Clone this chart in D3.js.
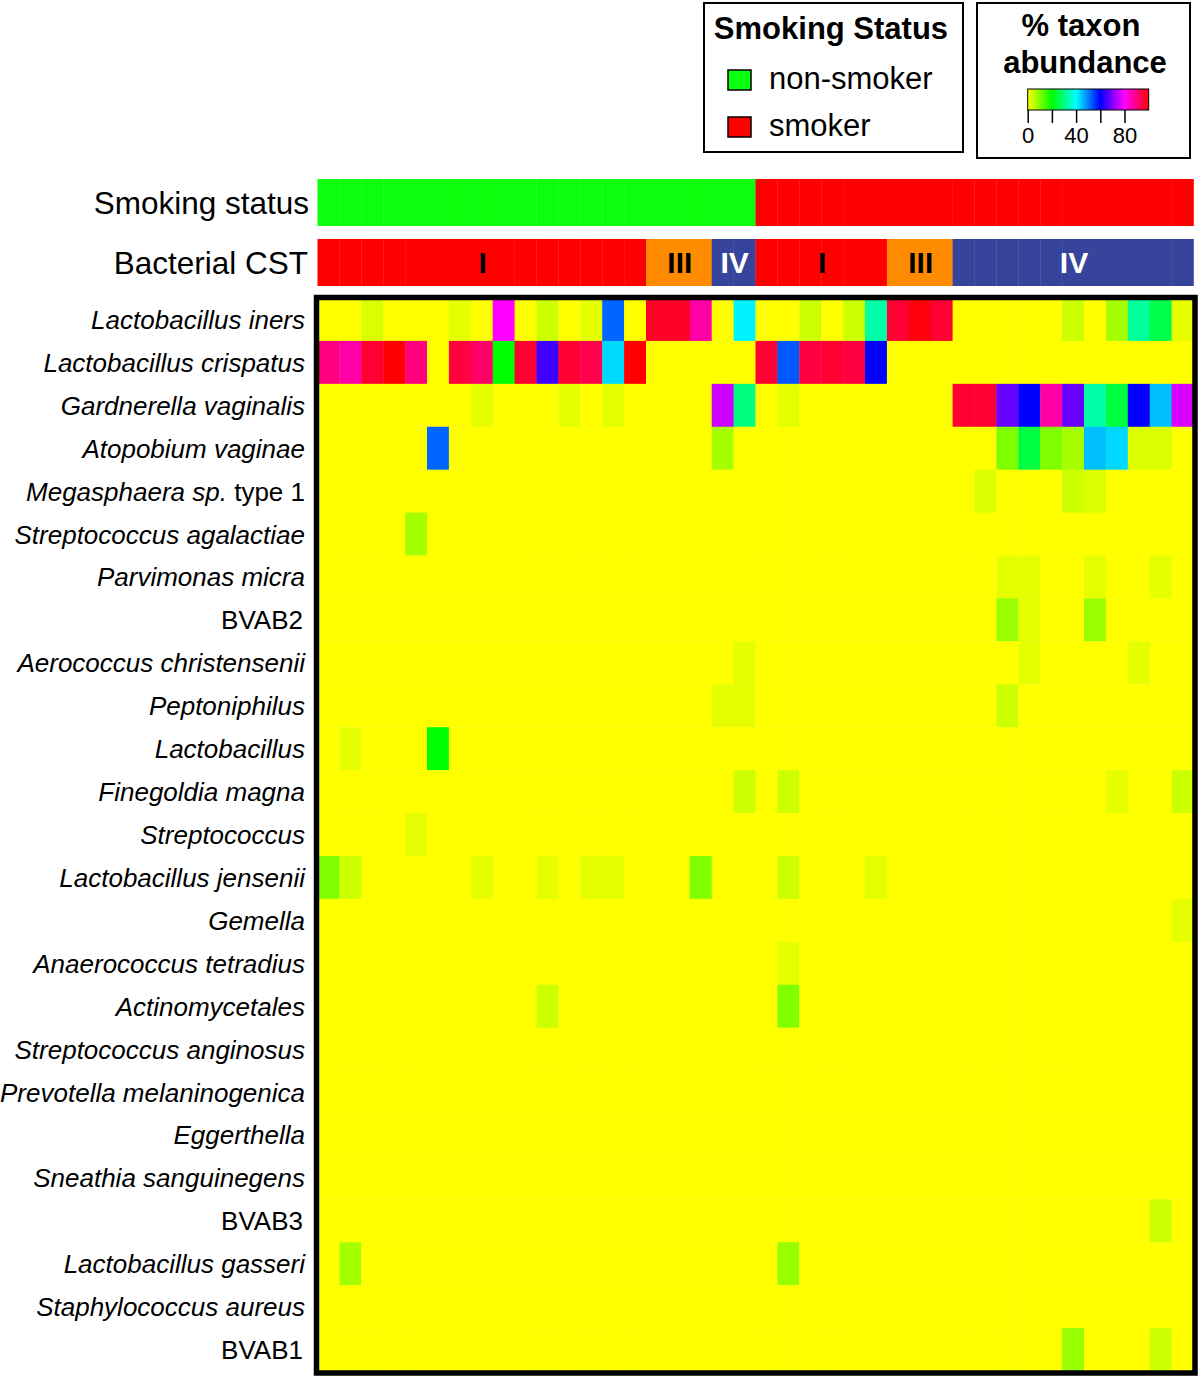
<!DOCTYPE html>
<html>
<head>
<meta charset="utf-8">
<script src="https://cdn.jsdelivr.net/npm/d3@7"></script>
<style>
  html, body { margin: 0; padding: 0; background: #fff; }
  svg { display: block; font-family: "Liberation Sans", Arial, sans-serif; }
</style>
</head>
<body>
<svg id="chart" width="1200" height="1379"></svg>
<script>
// ---------------- DATA ----------------
const taxa = [
  "Lactobacillus iners", "Lactobacillus crispatus", "Gardnerella vaginalis",
  "Atopobium vaginae", "Megasphaera sp. type 1", "Streptococcus agalactiae",
  "Parvimonas micra", "BVAB2", "Aerococcus christensenii", "Peptoniphilus",
  "Lactobacillus", "Finegoldia magna", "Streptococcus", "Lactobacillus jensenii",
  "Gemella", "Anaerococcus tetradius", "Actinomycetales", "Streptococcus anginosus",
  "Prevotella melaninogenica", "Eggerthella", "Sneathia sanguinegens", "BVAB3",
  "Lactobacillus gasseri", "Staphylococcus aureus", "BVAB1"
];

const smokingStatus = [
  "non-smoker","non-smoker","non-smoker","non-smoker","non-smoker","non-smoker","non-smoker","non-smoker","non-smoker","non-smoker",
  "non-smoker","non-smoker","non-smoker","non-smoker","non-smoker","non-smoker","non-smoker","non-smoker","non-smoker","non-smoker",
  "smoker","smoker","smoker","smoker","smoker","smoker","smoker","smoker","smoker","smoker",
  "smoker","smoker","smoker","smoker","smoker","smoker","smoker","smoker","smoker","smoker"
];

const cstGroups = [
  "I","I","I","I","I","I","I","I","I","I","I","I","I","I","I","III","III","III","IV","IV",
  "I","I","I","I","I","I","III","III","III","IV","IV","IV","IV","IV","IV","IV","IV","IV","IV","IV"
];

// % taxon abundance, one row per taxon (40 samples each)
const abundance = [
  [0,0,3,0,0,0,2,0,80,0,4,0,2,52,0,97,97,87,0,41, 0,0,4,0,4,33,96,99,96,0,0,0,0,0,4,0,7,32,26,2],
  [90,87,96,100,90,0,95,92,20,96,65,96,94,43,100,0,0,0,0,0, 96,53,95,96,95,60,0,0,0,0,0,0,0,0,0,0,0,0,0,0],
  [0,0,0,0,0,0,0,2,0,0,0,2,0,2,0,0,0,0,76,30, 0,2,0,0,0,0,0,0,0,96,96,68,60,87,68,33,25,60,45,77],
  [0,0,0,0,0,52,0,0,0,0,0,0,0,0,0,0,0,0,7,0, 0,0,0,0,0,0,0,0,0,0,0,10,25,10,7,45,43,3,3,0],
  [0,0,0,0,0,0,0,0,0,0,0,0,0,0,0,0,0,0,0,0, 0,0,0,0,0,0,0,0,0,0,3,0,0,0,4,3,0,0,0,0],
  [0,0,0,0,7,0,0,0,0,0,0,0,0,0,0,0,0,0,0,0, 0,0,0,0,0,0,0,0,0,0,0,0,0,0,0,0,0,0,0,0],
  [0,0,0,0,0,0,0,0,0,0,0,0,0,0,0,0,0,0,0,0, 0,0,0,0,0,0,0,0,0,0,0,2,2,0,0,2,0,0,2,0],
  [0,0,0,0,0,0,0,0,0,0,0,0,0,0,0,0,0,0,0,0, 0,0,0,0,0,0,0,0,0,0,0,8,2,0,0,8,0,0,0,0],
  [0,0,0,0,0,0,0,0,0,0,0,0,0,0,0,0,0,0,0,2, 0,0,0,0,0,0,0,0,0,0,0,0,2,0,0,0,0,2,0,0],
  [0,0,0,0,0,0,0,0,0,0,0,0,0,0,0,0,0,0,2,2, 0,0,0,0,0,0,0,0,0,0,0,4,0,0,0,0,0,0,0,0],
  [0,2,0,0,0,20,0,0,0,0,0,0,0,0,0,0,0,0,0,0, 0,0,0,0,0,0,0,0,0,0,0,0,0,0,0,0,0,0,0,0],
  [0,0,0,0,0,0,0,0,0,0,0,0,0,0,0,0,0,0,0,4, 0,4,0,0,0,0,0,0,0,0,0,0,0,0,0,0,2,0,0,4],
  [0,0,0,0,2,0,0,0,0,0,0,0,0,0,0,0,0,0,0,0, 0,0,0,0,0,0,0,0,0,0,0,0,0,0,0,0,0,0,0,0],
  [10,4,0,0,0,0,0,2,0,0,2,0,2,2,0,0,0,10,0,0, 0,4,0,0,0,2,0,0,0,0,0,0,0,0,0,0,0,0,0,0],
  [0,0,0,0,0,0,0,0,0,0,0,0,0,0,0,0,0,0,0,0, 0,0,0,0,0,0,0,0,0,0,0,0,0,0,0,0,0,0,0,2],
  [0,0,0,0,0,0,0,0,0,0,0,0,0,0,0,0,0,0,0,0, 0,2,0,0,0,0,0,0,0,0,0,0,0,0,0,0,0,0,0,0],
  [0,0,0,0,0,0,0,0,0,0,4,0,0,0,0,0,0,0,0,0, 0,10,0,0,0,0,0,0,0,0,0,0,0,0,0,0,0,0,0,0],
  [0,0,0,0,0,0,0,0,0,0,0,0,0,0,0,0,0,0,0,0, 0,0,0,0,0,0,0,0,0,0,0,0,0,0,0,0,0,0,0,0],
  [0,0,0,0,0,0,0,0,0,0,0,0,0,0,0,0,0,0,0,0, 0,0,0,0,0,0,0,0,0,0,0,0,0,0,0,0,0,0,0,0],
  [0,0,0,0,0,0,0,0,0,0,0,0,0,0,0,0,0,0,0,0, 0,0,0,0,0,0,0,0,0,0,0,0,0,0,0,0,0,0,0,0],
  [0,0,0,0,0,0,0,0,0,0,0,0,0,0,0,0,0,0,0,0, 0,0,0,0,0,0,0,0,0,0,0,0,0,0,0,0,0,0,0,0],
  [0,0,0,0,0,0,0,0,0,0,0,0,0,0,0,0,0,0,0,0, 0,0,0,0,0,0,0,0,0,0,0,0,0,0,0,0,0,0,4,0],
  [0,7,0,0,0,0,0,0,0,0,0,0,0,0,0,0,0,0,0,0, 0,8,0,0,0,0,0,0,0,0,0,0,0,0,0,0,0,0,0,0],
  [0,0,0,0,0,0,0,0,0,0,0,0,0,0,0,0,0,0,0,0, 0,0,0,0,0,0,0,0,0,0,0,0,0,0,0,0,0,0,0,0],
  [0,0,0,0,0,0,0,0,0,0,0,0,0,0,0,0,0,0,0,0, 0,0,0,0,0,0,0,0,0,0,0,0,0,0,8,0,0,0,4,0]
];

const smokingCategories = ["non-smoker", "smoker"];
const smokingColors = ["#0cff0c", "#ff0000"];
const cstCategories = ["I", "III", "IV"];
const cstColors = ["#ff0000", "#ff8c00", "#36459b"];
const cstTextColors = ["#000000", "#000000", "#ffffff"];
const colorbarTicks = [0, 20, 40, 60, 80];
const colorbarTickLabels = ["0", "", "40", "", "80"];

// ---------------- SCALES ----------------
const svg = d3.select("#chart");
const samples = d3.range(smokingStatus.length);

const x = d3.scaleBand().domain(samples).range([317.5, 1193.5]).paddingInner(0).paddingOuter(0);
const y = d3.scaleBand().domain(taxa).range([298, 1371]);
const color = d3.scaleSequential([0, 100], t => d3.hsl(60 + 300 * t, 1, 0.5).toString());
const smokeColor = d3.scaleOrdinal(smokingCategories, smokingColors);
const cstColor = d3.scaleOrdinal(cstCategories, cstColors);
const cstText = d3.scaleOrdinal(cstCategories, cstTextColors);

// ---------------- ANNOTATION BARS ----------------
const smokeBar = { y: 179, h: 47 };
const cstBar = { y: 239, h: 47 };

svg.append("g").selectAll("rect")
  .data(samples)
  .join("rect")
  .attr("x", d => x(d))
  .attr("y", smokeBar.y)
  .attr("width", x.bandwidth() + 0.3)
  .attr("height", smokeBar.h)
  .attr("fill", d => smokeColor(smokingStatus[d]));

svg.append("g").selectAll("rect")
  .data(samples)
  .join("rect")
  .attr("x", d => x(d))
  .attr("y", cstBar.y)
  .attr("width", x.bandwidth() + 0.3)
  .attr("height", cstBar.h)
  .attr("fill", d => cstColor(cstGroups[d]));

// CST group labels (contiguous runs)
const runs = [];
cstGroups.forEach((g, i) => {
  const last = runs[runs.length - 1];
  if (last && last.g === g) last.end = i; else runs.push({ g, start: i, end: i });
});
svg.append("g").selectAll("text")
  .data(runs)
  .join("text")
  .attr("x", d => (x(d.start) + x(d.end) + x.bandwidth()) / 2 + 1)
  .attr("y", cstBar.y + cstBar.h / 2 + 10.5)
  .attr("text-anchor", "middle")
  .attr("font-size", 30)
  .attr("font-weight", "bold")
  .attr("fill", d => cstText(d.g))
  .text(d => d.g);

svg.append("text")
  .attr("x", 309).attr("y", smokeBar.y + smokeBar.h / 2 + 11)
  .attr("text-anchor", "end").attr("font-size", 31.5)
  .text("Smoking status");
svg.append("text")
  .attr("x", 308).attr("y", cstBar.y + cstBar.h / 2 + 11)
  .attr("text-anchor", "end").attr("font-size", 31.5)
  .text("Bacterial CST");

// ---------------- HEATMAP ----------------
const cells = [];
taxa.forEach((t, r) => samples.forEach(c => cells.push({ taxon: t, sample: c, value: abundance[r][c] })));

svg.append("g").selectAll("rect")
  .data(cells)
  .join("rect")
  .attr("x", d => x(d.sample))
  .attr("y", d => y(d.taxon))
  .attr("width", x.bandwidth() + 0.4)
  .attr("height", y.bandwidth() + 0.4)
  .attr("fill", d => color(d.value));

svg.append("rect")
  .attr("x", 316.5).attr("y", 297.5)
  .attr("width", 878.5).attr("height", 1075.5)
  .attr("fill", "none").attr("stroke", "#000").attr("stroke-width", 5.5);

// Row labels
const labels = svg.append("g").selectAll("text")
  .data(taxa)
  .join("text")
  .attr("x", d => /^BVAB/.test(d) ? 303 : 305)
  .attr("y", d => y(d) + y.bandwidth() / 2 + 9.5)
  .attr("text-anchor", "end")
  .attr("font-size", 26);

labels.each(function(d) {
  const t = d3.select(this);
  const m = d.match(/^(.*sp\.)(\s.*)$/);
  if (/^BVAB/.test(d)) {
    t.append("tspan").text(d);
  } else if (m) {
    t.append("tspan").attr("font-style", "italic").text(m[1]);
    t.append("tspan").text(m[2]);
  } else {
    t.append("tspan").attr("font-style", "italic").text(d);
  }
});

// ---------------- LEGEND: SMOKING STATUS ----------------
const leg1 = svg.append("g");
leg1.append("rect").attr("x", 704).attr("y", 3).attr("width", 259).attr("height", 149)
  .attr("fill", "#fff").attr("stroke", "#000").attr("stroke-width", 2);
leg1.append("text").attr("x", 831).attr("y", 39).attr("text-anchor", "middle")
  .attr("font-size", 31).attr("font-weight", "bold").text("Smoking Status");
const legItems = leg1.selectAll("g.item").data(smokingCategories).join("g").attr("class", "item");
legItems.append("rect")
  .attr("x", 728).attr("y", (d, i) => 70 + i * 47)
  .attr("width", 23).attr("height", 20)
  .attr("fill", d => smokeColor(d)).attr("stroke", "#000").attr("stroke-width", 1.5);
legItems.append("text")
  .attr("x", 769).attr("y", (d, i) => 89 + i * 47)
  .attr("font-size", 31).text(d => d);

// ---------------- LEGEND: ABUNDANCE ----------------
const leg2 = svg.append("g");
leg2.append("rect").attr("x", 977).attr("y", 3).attr("width", 213).attr("height", 155)
  .attr("fill", "#fff").attr("stroke", "#000").attr("stroke-width", 2);
leg2.append("text").attr("x", 1081).attr("y", 36).attr("text-anchor", "middle")
  .attr("font-size", 31).attr("font-weight", "bold").text("% taxon");
leg2.append("text").attr("x", 1085).attr("y", 73).attr("text-anchor", "middle")
  .attr("font-size", 31).attr("font-weight", "bold").text("abundance");

const cb = d3.scaleLinear().domain([0, 100]).range([1027.7, 1148.7]);
const grad = svg.append("defs").append("linearGradient").attr("id", "cbgrad")
  .attr("x1", "0%").attr("x2", "100%").attr("y1", "0%").attr("y2", "0%");
grad.selectAll("stop").data(d3.range(0, 101, 5)).join("stop")
  .attr("offset", d => d + "%").attr("stop-color", d => color(d));
leg2.append("rect").attr("x", cb(0)).attr("y", 89).attr("width", cb(100) - cb(0)).attr("height", 21)
  .attr("fill", "url(#cbgrad)").attr("stroke", "#000").attr("stroke-width", 1);

const axis = d3.axisBottom(cb).tickValues(colorbarTicks).tickSize(13)
  .tickFormat((d, i) => colorbarTickLabels[i]);
const ax = leg2.append("g").attr("transform", "translate(0,110)").call(axis);
ax.select(".domain").remove();
ax.selectAll(".tick line").attr("stroke", "#000").attr("stroke-width", 1.5);
ax.selectAll(".tick text").attr("font-size", 22).attr("fill", "#000")
  .attr("font-family", "Liberation Sans, Arial, sans-serif").attr("y", 17);
</script>
</body>
</html>
